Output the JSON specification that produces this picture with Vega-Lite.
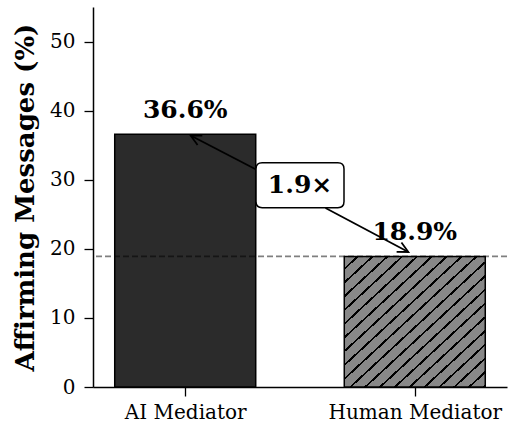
{
  "$schema": "https://vega.github.io/schema/vega-lite/v6.json",
  "width": 414,
  "height": 380,
  "autosize": "none",
  "padding": {"left": 93, "top": 7, "right": 1, "bottom": 38},
  "background": "white",
  "config": {
    "view": {"stroke": null},
    "font": "DejaVu Serif",
    "axis": {
      "domainColor": "black",
      "domainWidth": 1.5,
      "tickColor": "black",
      "tickWidth": 1.3,
      "tickSize": 9,
      "labelFont": "DejaVu Serif",
      "labelFontSize": 20,
      "labelColor": "black",
      "grid": false,
      "titleFont": "DejaVu Serif",
      "titleColor": "black"
    }
  },
  "datasets": {
    "bars": [
      {"mediator": "AI Mediator", "pos": 0, "value": 36.6, "label": "36.6%"},
      {"mediator": "Human Mediator", "pos": 1, "value": 18.9, "label": "18.9%"}
    ],
    "arrows": [
      {"id": "a", "x": 0.313, "y": 31.4, "x2": 0.0234, "y2": 36.4},
      {"id": "b", "x": 0.611, "y": 25.9, "x2": 0.972, "y2": 19.54}
    ],
    "note": [
      {"x": 0.5, "y": 29.2, "text": "1.9×"}
    ]
  },
  "encoding": {
    "x": {
      "field": "pos",
      "type": "quantitative",
      "scale": {"domain": [-0.38, 1.38], "nice": false, "zero": false},
      "axis": {
        "values": [0, 1],
        "labelExpr": "datum.value == 0 ? 'AI Mediator' : 'Human Mediator'",
        "labelPadding": 6,
        "title": null
      }
    },
    "y": {
      "field": "value",
      "type": "quantitative",
      "scale": {"domain": [0, 55], "nice": false},
      "axis": {
        "values": [0, 10, 20, 30, 40, 50],
        "labelPadding": 9,
        "title": "Affirming Messages (%)",
        "titleFontSize": 26,
        "titleFontWeight": "bold",
        "titlePadding": 11
      }
    }
  },
  "layer": [
    {
      "data": {"name": "bars"},
      "transform": [{"filter": "datum.pos == 0"}],
      "mark": {"type": "bar", "width": 141, "fill": "#2b2b2b", "stroke": "black", "strokeWidth": 1.5}
    },
    {
      "data": {"name": "bars"},
      "transform": [{"filter": "datum.pos == 1"}],
      "mark": {
        "type": "bar", "width": 141, "stroke": "black", "strokeWidth": 1.5,
        "fill": {
          "gradient": "linear", "x1": 0, "y1": 0, "x2": 1, "y2": 1,
          "stops": [
            {"offset": 0, "color": "#888888"}, {"offset": 0.04316, "color": "#888888"}, {"offset": 0.04316, "color": "black"}, {"offset": 0.05263, "color": "black"},
            {"offset": 0.05263, "color": "#888888"}, {"offset": 0.09579, "color": "#888888"}, {"offset": 0.09579, "color": "black"}, {"offset": 0.10526, "color": "black"},
            {"offset": 0.10526, "color": "#888888"}, {"offset": 0.14842, "color": "#888888"}, {"offset": 0.14842, "color": "black"}, {"offset": 0.15789, "color": "black"},
            {"offset": 0.15789, "color": "#888888"}, {"offset": 0.20106, "color": "#888888"}, {"offset": 0.20106, "color": "black"}, {"offset": 0.21053, "color": "black"},
            {"offset": 0.21053, "color": "#888888"}, {"offset": 0.25369, "color": "#888888"}, {"offset": 0.25369, "color": "black"}, {"offset": 0.26316, "color": "black"},
            {"offset": 0.26316, "color": "#888888"}, {"offset": 0.30632, "color": "#888888"}, {"offset": 0.30632, "color": "black"}, {"offset": 0.31579, "color": "black"},
            {"offset": 0.31579, "color": "#888888"}, {"offset": 0.35895, "color": "#888888"}, {"offset": 0.35895, "color": "black"}, {"offset": 0.36842, "color": "black"},
            {"offset": 0.36842, "color": "#888888"}, {"offset": 0.41158, "color": "#888888"}, {"offset": 0.41158, "color": "black"}, {"offset": 0.42105, "color": "black"},
            {"offset": 0.42105, "color": "#888888"}, {"offset": 0.46421, "color": "#888888"}, {"offset": 0.46421, "color": "black"}, {"offset": 0.47368, "color": "black"},
            {"offset": 0.47368, "color": "#888888"}, {"offset": 0.51685, "color": "#888888"}, {"offset": 0.51685, "color": "black"}, {"offset": 0.52632, "color": "black"},
            {"offset": 0.52632, "color": "#888888"}, {"offset": 0.56948, "color": "#888888"}, {"offset": 0.56948, "color": "black"}, {"offset": 0.57895, "color": "black"},
            {"offset": 0.57895, "color": "#888888"}, {"offset": 0.62211, "color": "#888888"}, {"offset": 0.62211, "color": "black"}, {"offset": 0.63158, "color": "black"},
            {"offset": 0.63158, "color": "#888888"}, {"offset": 0.67474, "color": "#888888"}, {"offset": 0.67474, "color": "black"}, {"offset": 0.68421, "color": "black"},
            {"offset": 0.68421, "color": "#888888"}, {"offset": 0.72737, "color": "#888888"}, {"offset": 0.72737, "color": "black"}, {"offset": 0.73684, "color": "black"},
            {"offset": 0.73684, "color": "#888888"}, {"offset": 0.78, "color": "#888888"}, {"offset": 0.78, "color": "black"}, {"offset": 0.78947, "color": "black"},
            {"offset": 0.78947, "color": "#888888"}, {"offset": 0.83264, "color": "#888888"}, {"offset": 0.83264, "color": "black"}, {"offset": 0.84211, "color": "black"},
            {"offset": 0.84211, "color": "#888888"}, {"offset": 0.88527, "color": "#888888"}, {"offset": 0.88527, "color": "black"}, {"offset": 0.89474, "color": "black"},
            {"offset": 0.89474, "color": "#888888"}, {"offset": 0.93790, "color": "#888888"}, {"offset": 0.93790, "color": "black"}, {"offset": 0.94737, "color": "black"},
            {"offset": 0.94737, "color": "#888888"}, {"offset": 0.99053, "color": "#888888"}, {"offset": 0.99053, "color": "black"}, {"offset": 1, "color": "black"}
          ]
        }
      }
    },
    {
      "data": {"name": "bars"},
      "transform": [{"filter": "datum.pos == 1"}],
      "mark": {"type": "rule", "color": "black", "opacity": 0.5, "strokeWidth": 1.6, "strokeDash": [6, 3]},
      "encoding": {"x": null}
    },
    {
      "data": {"name": "bars"},
      "mark": {"type": "text", "baseline": "alphabetic", "align": "center", "dy": -16, "fontSize": 25, "fontWeight": "bold", "font": "DejaVu Serif", "color": "black"},
      "encoding": {"text": {"field": "label"}}
    },
    {
      "data": {"name": "arrows"},
      "mark": {"type": "rule", "color": "black", "strokeWidth": 1.8},
      "encoding": {
        "x": {"field": "x", "type": "quantitative"},
        "y": {"field": "y", "type": "quantitative"},
        "x2": {"field": "x2"},
        "y2": {"field": "y2"}
      }
    },
    {
      "data": {"name": "arrows"},
      "transform": [{"filter": "datum.id == 'a'"}],
      "mark": {"type": "point", "shape": "M -1 -0.5 L 0 0 L -1 0.5", "filled": false, "stroke": "black", "strokeWidth": 1.8, "size": 440, "angle": 206.9, "opacity": 1},
      "encoding": {
        "x": {"field": "x2", "type": "quantitative"},
        "y": {"field": "y2", "type": "quantitative"}
      }
    },
    {
      "data": {"name": "arrows"},
      "transform": [{"filter": "datum.id == 'b'"}],
      "mark": {"type": "point", "shape": "M -1 -0.5 L 0 0 L -1 0.5", "filled": false, "stroke": "black", "strokeWidth": 1.8, "size": 440, "angle": 27.4, "opacity": 1},
      "encoding": {
        "x": {"field": "x2", "type": "quantitative"},
        "y": {"field": "y2", "type": "quantitative"}
      }
    },
    {
      "data": {"name": "note"},
      "mark": {"type": "point", "shape": "M -0.86 -0.511 L 0.86 -0.511 Q 1 -0.511 1 -0.371 L 1 0.371 Q 1 0.511 0.86 0.511 L -0.86 0.511 Q -1 0.511 -1 0.371 L -1 -0.371 Q -1 -0.511 -0.86 -0.511 Z", "filled": true, "fill": "white", "stroke": "black", "strokeWidth": 1.5, "size": 7744, "opacity": 1, "fillOpacity": 1},
      "encoding": {
        "x": {"field": "x", "type": "quantitative"},
        "y": {"field": "y", "type": "quantitative"}
      }
    },
    {
      "data": {"name": "note"},
      "mark": {"type": "text", "baseline": "middle", "align": "center", "fontSize": 25, "fontWeight": "bold", "font": "DejaVu Serif", "color": "black"},
      "encoding": {
        "x": {"field": "x", "type": "quantitative"},
        "y": {"field": "y", "type": "quantitative"},
        "text": {"field": "text"}
      }
    }
  ]
}
